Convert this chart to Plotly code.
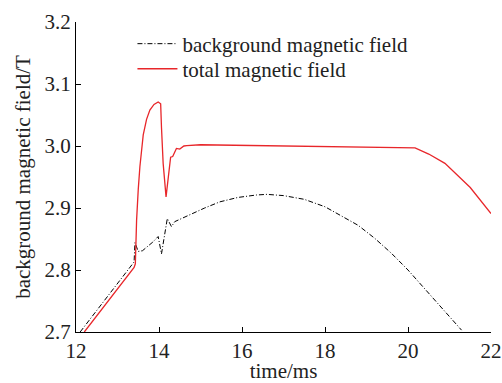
import plotly.graph_objects as go

bg_t = [12.1, 12.5, 13.0, 13.4, 13.42, 13.5, 13.6, 13.7, 13.85, 13.98, 14.06, 14.2, 14.3, 14.38, 14.6, 14.83,
        15.1, 15.47, 15.9, 16.35, 16.6, 17.0, 17.5, 18.0, 18.36, 18.8, 19.2, 19.6, 20.0, 20.4, 20.8, 21.29]
bg_b = [2.700, 2.735, 2.778, 2.813, 2.844, 2.830, 2.831, 2.836, 2.845, 2.854, 2.826, 2.883, 2.870, 2.878, 2.885, 2.891,
        2.900, 2.910, 2.917, 2.921, 2.922, 2.920, 2.914, 2.902, 2.889, 2.872, 2.851, 2.827, 2.800, 2.770, 2.740, 2.703]

tot_t = [12.2, 12.8, 13.4, 13.43, 13.46, 13.5, 13.54, 13.62, 13.7, 13.78, 13.88, 13.98, 14.04, 14.06, 14.1, 14.17,
         14.2, 14.23, 14.28, 14.33, 14.38, 14.42, 14.5, 14.6, 14.67, 15.0, 15.39, 16.0, 17.0, 18.0, 19.0, 19.8,
         20.17, 20.5, 20.89, 21.5, 22.0]
tot_b = [2.700, 2.752, 2.804, 2.810, 2.880, 2.930, 2.967, 3.018, 3.043, 3.058, 3.067, 3.071, 3.068, 3.030, 2.972, 2.918,
         2.935, 2.956, 2.982, 2.983, 2.990, 2.996, 2.995, 3.000, 3.0005, 3.002, 3.0016, 3.001, 3.000, 2.999, 2.999, 2.998,
         2.997, 2.987, 2.972, 2.933, 2.891]

x_ticks = [12, 14, 16, 18, 20, 22]
y_ticks = [2.7, 2.8, 2.9, 3.0, 3.1, 3.2]

fig = go.Figure()
fig.add_trace(go.Scatter(x=bg_t, y=bg_b, mode="lines", name="background magnetic field", legend="legend",
                         line=dict(color="black", width=1, dash="5px,2px,1px,2px")))
fig.add_trace(go.Scatter(x=tot_t, y=tot_b, mode="lines", name="total magnetic field", legend="legend2",
                         line=dict(color="#e8262a", width=1.3)))

font = "Liberation Serif"
leg_common = dict(xanchor="left", yanchor="middle", bgcolor="rgba(0,0,0,0)",
                  font=dict(size=21, family=font, color="#222"), itemwidth=40)
fig.update_layout(
    width=502, height=383,
    margin=dict(l=76, r=11, t=22, b=51),
    plot_bgcolor="white", paper_bgcolor="white",
    font=dict(family=font, color="#222", size=21),
    showlegend=True,
    legend=dict(x=0.136, y=0.929, **leg_common),
    legend2=dict(x=0.136, y=0.848, **leg_common),
    xaxis=dict(range=[12, 22], tickvals=x_ticks, ticks="inside", ticklen=5, tickcolor="black",
               showline=True, linecolor="black", linewidth=1, showgrid=False, zeroline=False,
               tickfont=dict(size=21, family=font), automargin=False,
               title=dict(text="time/ms", font=dict(size=21, family=font), standoff=2)),
    yaxis=dict(range=[2.7, 3.2], tickvals=y_ticks, tickformat=".1f", ticks="inside", ticklen=5, tickcolor="black",
               showline=True, linecolor="black", linewidth=1, showgrid=False, zeroline=False,
               tickfont=dict(size=21, family=font), automargin=False,
               title=dict(text="background magnetic field/T", font=dict(size=21, family=font), standoff=8)),
)
fig.write_html("out.html", config={"displayModeBar": False},
               post_script="document.body.style.margin='0';document.body.style.padding='0';")
